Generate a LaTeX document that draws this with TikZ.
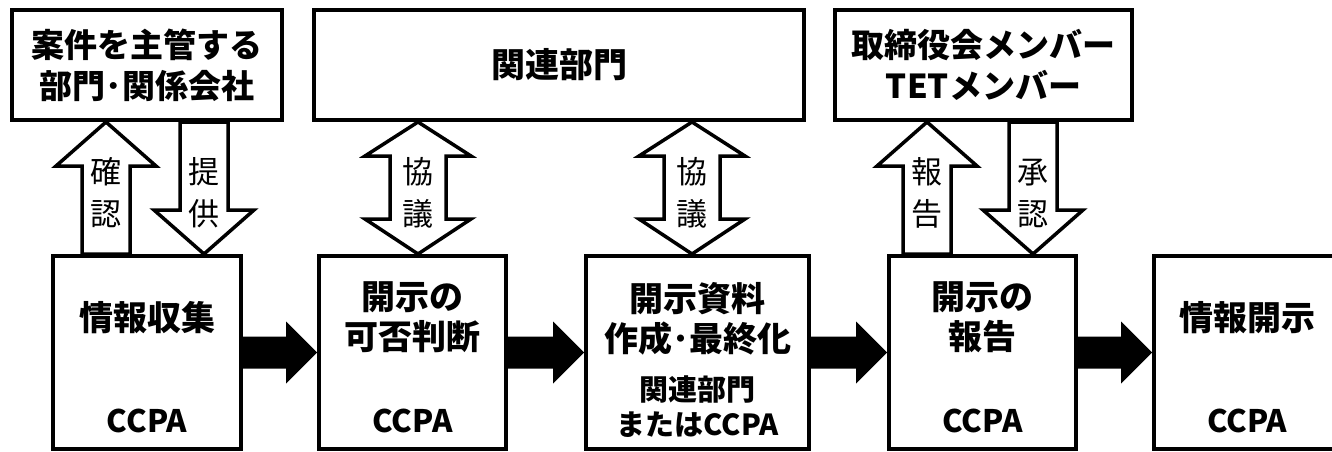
\documentclass[tikz,border=0pt]{standalone}
\usepackage{fontspec}
\setmainfont{Noto Sans CJK JP}
\usetikzlibrary{calc}

\begin{document}
\begin{tikzpicture}[x=1pt, y=-1pt,
    box/.style={draw, line width=4pt, inner sep=0pt, align=center},
    ttl/.style={font=\bfseries\fontsize{34}{40}\selectfont, align=center, inner sep=0pt},
    who/.style={font=\bfseries\fontsize{31}{35}\selectfont, inner sep=0pt},
    lbl/.style={font=\fontsize{31}{42}\selectfont, align=center, inner sep=0pt},
    harr/.style={to path={let \p1=(\tikztostart), \p2=(\tikztotarget) in
      (\x1,\y1+16pt) -- (\x2-31pt,\y1+16pt) -- (\x2-31pt,\y1+31pt) -- (\x2,\y2)
      -- (\x2-31pt,\y1-31pt) -- (\x2-31pt,\y1-16pt) -- (\x1,\y1-16pt) -- cycle}},
    sarr/.style={line width=3.5pt, to path={let \p1=(\tikztostart), \p2=(\tikztotarget),
      \n1={sign(\y2-\y1)} in
      (\x1-24pt,\y1) -- (\x1-24pt,\y2-\n1*44pt) -- (\x1-50pt,\y2-\n1*44pt) -- (\x2,\y2)
      -- (\x1+50pt,\y2-\n1*44pt) -- (\x1+24pt,\y2-\n1*44pt) -- (\x1+24pt,\y1) -- cycle}},
    darr/.style={line width=3.5pt, to path={let \p1=(\tikztostart), \p2=(\tikztotarget),
      \n1={sign(\y2-\y1)} in
      (\x1,\y1) -- (\x1-53pt,\y1+\n1*35pt) -- (\x1-28pt,\y1+\n1*35pt)
      -- (\x1-28pt,\y2-\n1*34pt) -- (\x1-53pt,\y2-\n1*34pt) -- (\x2,\y2)
      -- (\x1+53pt,\y2-\n1*34pt) -- (\x1+28pt,\y2-\n1*34pt)
      -- (\x1+28pt,\y1+\n1*35pt) -- (\x1+53pt,\y1+\n1*35pt) -- cycle}}
  ]
    \useasboundingbox (0, 0) rectangle (1332, 452) ;

    % upper row
    \node[box, minimum width=270pt, minimum height=110pt, font=\bfseries\fontsize{33}{41}\selectfont] (owner) at (147, 65) {案件を主管する\\部門･関係会社} ;
    \node[box, minimum width=490pt, minimum height=110pt, font=\bfseries\fontsize{34}{40}\selectfont] (rel) at (559, 65) {関連部門} ;
    \node[box, minimum width=297pt, minimum height=110pt, font=\bfseries\fontsize{33}{41}\selectfont] (board) at (983.5, 65) {取締役会メンバー\\TETメンバー} ;

    % lower row
    \node[box, minimum width=188pt, minimum height=193pt] (collect) at (147, 352.5) {} ;
    \node[box, minimum width=187pt, minimum height=193pt] (judge) at (412.5, 352.5) {} ;
    \node[box, minimum width=223pt, minimum height=193pt] (draft) at (697.5, 352.5) {} ;
    \node[box, minimum width=187pt, minimum height=193pt] (report) at (982.5, 352.5) {} ;
    \node[box, minimum width=186pt, minimum height=193pt] (pub) at (1247, 352.5) {} ;

    \node[ttl] (collect-t) at ([yshift=35pt]collect.center) {情報収集} ;
    \node[ttl] (judge-t) at ([yshift=35pt]judge.center) {開示の\\可否判断} ;
    \node[ttl] (draft-t) at ([yshift=34pt]draft.center) {開示資料\\作成･最終化} ;
    \node[ttl] (report-t) at ([yshift=35pt]report.center) {開示の\\報告} ;
    \node[ttl] (pub-t) at ([yshift=35pt]pub.center) {情報開示} ;

    \node[who] (collect-w) at ([yshift=-68pt]collect.center) {CCPA} ;
    \node[who] (judge-w) at ([yshift=-68pt]judge.center) {CCPA} ;
    \node[who, align=center, font=\bfseries\fontsize{29}{35}\selectfont] (draft-w) at ([yshift=-54pt]draft.center) {関連部門\\またはCCPA} ;
    \node[who] (report-w) at ([yshift=-68pt]report.center) {CCPA} ;
    \node[who] (pub-w) at ([yshift=-68pt]pub.center) {CCPA} ;

    % flow
    \fill[harr] (collect.east) to (judge.west) ;
    \fill[harr] (judge.east) to (draft.west) ;
    \fill[harr] (draft.east) to (report.west) ;
    \fill[harr] (report.east) to (pub.west) ;

    % up and down
    \coordinate (mid) at (0, 193) ;
    \coordinate (k1) at (106, 0) ;
    \coordinate (k2) at (204, 0) ;
    \coordinate (k3) at (418, 0) ;
    \coordinate (k4) at (692, 0) ;
    \coordinate (k5) at (927, 0) ;
    \coordinate (k6) at (1033, 0) ;
    \draw[sarr] (k1 |- collect.north) to (k1 |- owner.south) ;
    \draw[sarr] (k2 |- owner.south) to (k2 |- collect.north) ;
    \draw[darr] (k3 |- judge.north) to (k3 |- rel.south) ;
    \draw[darr] (k4 |- draft.north) to (k4 |- rel.south) ;
    \draw[sarr] (k5 |- report.north) to (k5 |- board.south) ;
    \draw[sarr] (k6 |- board.south) to (k6 |- report.north) ;

    \node[lbl] (l1) at (k1 |- mid) {確\\認} ;
    \node[lbl] (l2) at (k2 |- mid) {提\\供} ;
    \node[lbl] (l3) at (k3 |- mid) {協\\議} ;
    \node[lbl] (l4) at (k4 |- mid) {協\\議} ;
    \node[lbl] (l5) at (k5 |- mid) {報\\告} ;
    \node[lbl] (l6) at (k6 |- mid) {承\\認} ;
  \end{tikzpicture}
\end{document}
